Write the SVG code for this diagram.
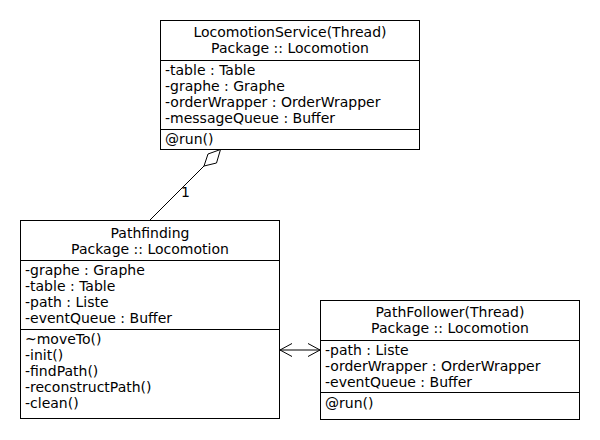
<svg xmlns="http://www.w3.org/2000/svg" width="600" height="440" viewBox="0 0 600 440">
<defs>
<style>
text{font-family:"DejaVu Sans",sans-serif;font-size:14px;fill:#000}
.t{text-anchor:middle}
.box{fill:#fff;stroke:#000;stroke-width:1}
.ln{stroke:#000;stroke-width:1;fill:none}
</style>
<marker id="open" viewBox="0 0 12 14" refX="12" refY="7" markerWidth="12" markerHeight="14" markerUnits="userSpaceOnUse" orient="auto-start-reverse">
<path d="M0,0.5 L12,7 L0,13.5" fill="none" stroke="#000" stroke-width="1"/>
</marker>
</defs>
<rect width="600" height="440" fill="#fff"/>
<g id="connectors">
<line class="ln" x1="150" y1="220" x2="204" y2="166"/>
<polygon points="220.5,149.5 216.5,163 204,166 208,154" fill="#fff" stroke="#000" stroke-width="1"/>
<text x="181" y="197">1</text>
<line class="ln" x1="280" y1="350" x2="320" y2="350" marker-start="url(#open)" marker-end="url(#open)"/>
</g>
<g id="LocomotionService">
<rect class="box" x="160.5" y="20.5" width="259" height="129"/>
<line class="ln" x1="160.5" y1="60.5" x2="419.5" y2="60.5"/>
<line class="ln" x1="160.5" y1="129.5" x2="419.5" y2="129.5"/>
<text class="t" x="290" y="37">LocomotionService(Thread)</text>
<text class="t" x="290" y="53">Package :: Locomotion</text>
<text x="165" y="75">-table : Table</text>
<text x="165" y="91">-graphe : Graphe</text>
<text x="165" y="107">-orderWrapper : OrderWrapper</text>
<text x="165" y="123">-messageQueue : Buffer</text>
<text x="165" y="144">@run()</text>
</g>
<g id="Pathfinding">
<rect class="box" x="20.5" y="220.5" width="259" height="198"/>
<line class="ln" x1="20.5" y1="260.5" x2="279.5" y2="260.5"/>
<line class="ln" x1="20.5" y1="329.5" x2="279.5" y2="329.5"/>
<text class="t" x="150" y="238">Pathfinding</text>
<text class="t" x="150" y="254">Package :: Locomotion</text>
<text x="25" y="275">-graphe : Graphe</text>
<text x="25" y="291">-table : Table</text>
<text x="25" y="307">-path : Liste</text>
<text x="25" y="323">-eventQueue : Buffer</text>
<text x="25" y="344">~moveTo()</text>
<text x="25" y="360">-init()</text>
<text x="25" y="376">-findPath()</text>
<text x="25" y="392">-reconstructPath()</text>
<text x="25" y="408">-clean()</text>
</g>
<g id="PathFollower">
<rect class="box" x="320.5" y="300.5" width="259" height="119"/>
<line class="ln" x1="320.5" y1="340.5" x2="579.5" y2="340.5"/>
<line class="ln" x1="320.5" y1="392.5" x2="579.5" y2="392.5"/>
<text class="t" x="450" y="317">PathFollower(Thread)</text>
<text class="t" x="450" y="333">Package :: Locomotion</text>
<text x="325" y="355">-path : Liste</text>
<text x="325" y="371">-orderWrapper : OrderWrapper</text>
<text x="325" y="387">-eventQueue : Buffer</text>
<text x="325" y="408">@run()</text>
</g>
</svg>
